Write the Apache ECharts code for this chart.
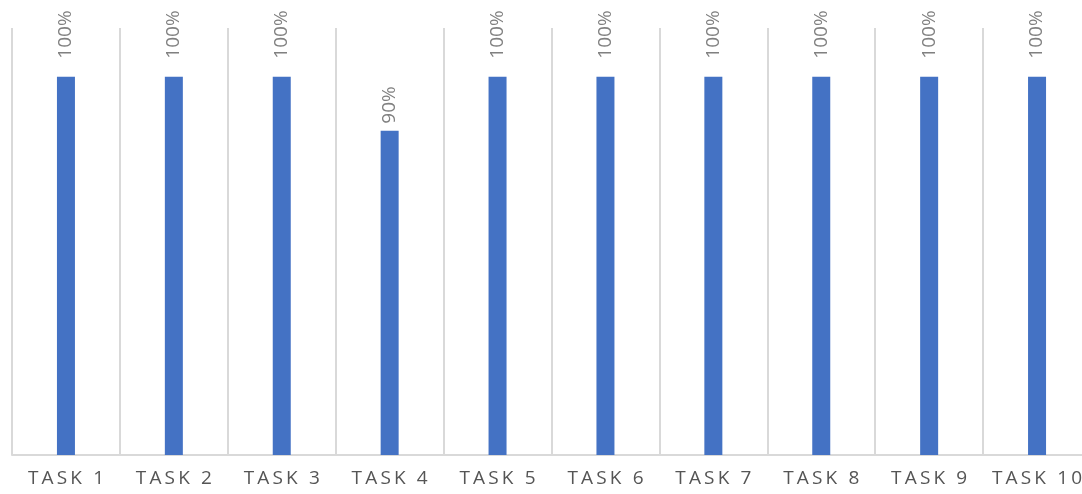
<!DOCTYPE html>
<html>
<head>
<meta charset="utf-8">
<script src="https://cdn.jsdelivr.net/npm/echarts@6/dist/echarts.min.js"></script>
<style>
html,body{margin:0;padding:0;background:#fff;}
#chart{width:1082px;height:494px;}
</style>
</head>
<body>
<div id="chart"></div>
<script>
const categories = ["TASK 1","TASK 2","TASK 3","TASK 4","TASK 5","TASK 6","TASK 7","TASK 8","TASK 9","TASK 10"];
const completion = [100,100,100,90,100,100,100,100,100,100];

const spaced = s => s.split('').join('\u2009');

const chart = echarts.init(document.getElementById('chart'));
chart.setOption({
  animation: false,
  grid: {left: 12, width: 1079, top: 28, bottom: 39, containLabel: false, outerBoundsMode: 'none'},
  xAxis: {
    type: 'category',
    data: categories,
    boundaryGap: true,
    axisLine: {show: true, lineStyle: {color: '#d9d9d9', width: 2}},
    axisTick: {show: false},
    splitLine: {show: true, interval: 0, lineStyle: {color: '#d9d9d9', width: 2}},
    axisLabel: {
      interval: 0,
      margin: 14,
      color: '#555555',
      fontFamily: 'Open Sans',
      fontSize: 19,
      formatter: v => spaced(v)
    }
  },
  yAxis: {
    type: 'value',
    min: 30,
    max: 109,
    show: false,
    splitLine: {show: false}
  },
  series: [{
    type: 'bar',
    barWidth: 18,
    itemStyle: {color: '#4472C4'},
    data: completion.map(v => ({
      value: v,
      label: {distance: v >= 100 ? 18 : 7}
    })),
    label: {
      show: true,
      position: 'top',
      rotate: 90,
      align: 'left',
      verticalAlign: 'middle',
      color: '#808080',
      fontFamily: 'Open Sans',
      fontSize: 19,
      formatter: p => p.value + '%'
    }
  }]
});
</script>
</body>
</html>
